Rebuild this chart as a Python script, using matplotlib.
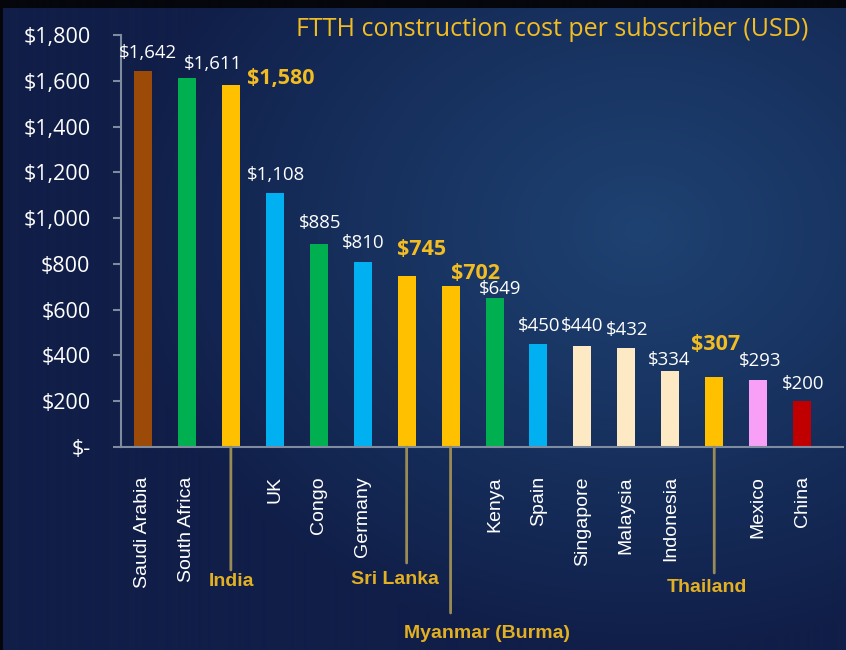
import numpy as np
import matplotlib.pyplot as plt
from matplotlib.colors import to_rgb

countries = ['Saudi Arabia', 'South Africa', 'India', 'UK', 'Congo', 'Germany',
             'Sri Lanka', 'Myanmar (Burma)', 'Kenya', 'Spain', 'Singapore',
             'Malaysia', 'Indonesia', 'Thailand', 'Mexico', 'China']
costs = [1642, 1611, 1580, 1108, 885, 810, 745, 702, 649, 450, 440, 432, 334, 307, 293, 200]
highlight = ['India', 'Sri Lanka', 'Myanmar (Burma)', 'Thailand']
bar_colors = ['#9c4a08', '#00b050', '#ffc000', '#00b0f0', '#00b050', '#00b0f0',
              '#ffc000', '#ffc000', '#00b050', '#00b0f0', '#fde9c4', '#fde9c4',
              '#fde9c4', '#ffc000', '#f8a0f8', '#c00000']
yticks = [0, 200, 400, 600, 800, 1000, 1200, 1400, 1600, 1800]

# value label offsets (pixels, label centre relative to bar top)
lab_dx = [5, 26, 50, 1, 1, 0, 15, 25, 6, 1, 0, 1, -1, 1, 2, 1]
lab_dy = [18, 14, 7, 18, 21, 19, 27, 13, 9, 18, 20, 18, 11, 32, 19, 17]
# highlighted country callouts: line length, label dx, label dy (pixels)
call_len = {'India': 123, 'Sri Lanka': 116, 'Myanmar (Burma)': 166, 'Thailand': 126}
call_lab = {'India': (1, -135), 'Sri Lanka': (-12, -133),
            'Myanmar (Burma)': (36, -186), 'Thailand': (-7, -141)}

GOLD = '#f2bd22'
GOLD2 = '#e2b022'

fig = plt.figure(figsize=(8.46, 6.5), dpi=100)

# slide background gradient
h, w = 650, 846
yy, xx = np.mgrid[0:h, 0:w]
d = np.sqrt(((xx - 640) / 520.0) ** 2 + ((yy - 230) / 420.0) ** 2)
t = np.clip(1 - d, 0, 1) ** 0.9
c0 = np.array(to_rgb('#101e48'))
c1 = np.array(to_rgb('#1e4272'))
img = c0 + (c1 - c0) * t[..., None]
img[:8, :] = to_rgb('#05070d')
img[:, :3] = to_rgb('#05070d')
bg = fig.add_axes([0, 0, 1, 1])
bg.imshow(img, extent=[0, 1, 0, 1], aspect='auto', origin='upper')
bg.axis('off')

ax = fig.add_axes([121 / 846, 1 - 447 / 650, (843 - 121) / 846, 412 / 650])
ax.patch.set_alpha(0)
x = np.arange(len(countries))
ax.bar(x, costs, width=0.41, color=bar_colors)
ax.set_xlim(-0.5, 15.93)
ax.set_ylim(0, 1800)

for s in ['top', 'right']:
    ax.spines[s].set_visible(False)
for s in ['left', 'bottom']:
    ax.spines[s].set_color('#7f8ca0')
    ax.spines[s].set_linewidth(1.5)

ax.set_yticks(yticks)
ax.set_yticklabels(['$-' if v == 0 else '${:,}'.format(v) for v in yticks],
                   fontsize=15.5, color='white', family='Open Sans')
ax.tick_params(axis='y', color='#7f8ca0', length=6, width=1.5, pad=16)

ax.set_xticks(x)
ax.set_xticklabels(['' if c in highlight else c for c in countries], rotation=90,
                   fontsize=14, color='white', family='Liberation Sans')
ax.tick_params(axis='x', length=0, pad=21)

for i, (c, v) in enumerate(zip(countries, costs)):
    txt = '${:,}'.format(v)
    if c in highlight:
        ax.annotate(txt, xy=(i, v), xytext=(lab_dx[i], lab_dy[i]), textcoords='offset pixels',
                    ha='center', va='center', fontsize=15.5, fontweight='bold',
                    color=GOLD, family='Open Sans', annotation_clip=False)
        ax.annotate('', xy=(i, 0), xytext=(0, -call_len[c]), textcoords='offset pixels',
                    arrowprops=dict(arrowstyle='-', color='#9a8a55', lw=2,
                                    shrinkA=0, shrinkB=0), annotation_clip=False)
        dx, dy = call_lab[c]
        ax.annotate(c, xy=(i, 0), xytext=(dx, dy), textcoords='offset pixels',
                    ha='center', va='center', fontsize=14, fontweight='bold',
                    color=GOLD2, family='Liberation Sans', annotation_clip=False)
    else:
        ax.annotate(txt, xy=(i, v), xytext=(lab_dx[i], lab_dy[i]), textcoords='offset pixels',
                    ha='center', va='center', fontsize=13.4, color='white',
                    family='Open Sans', annotation_clip=False)

fig.text(552 / 846, 1 - 30 / 650, 'FTTH construction cost per subscriber (USD)',
         ha='center', va='center', fontsize=18, color=GOLD, family='Open Sans')

fig.savefig('out.png', dpi=100)
